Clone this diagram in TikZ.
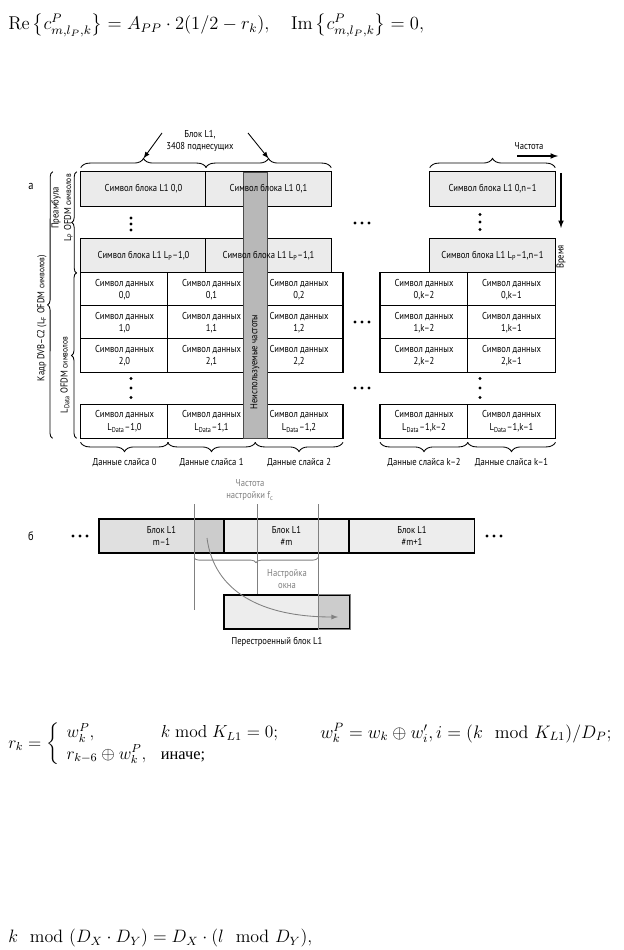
\documentclass[tikz,border=0pt]{standalone}
\usepackage{amsmath}
\usepackage{fontspec}
\newfontfamily\diagfont[FakeStretch=0.86]{PT Sans}
\newfontfamily\cyrserif{Liberation Serif}
\usetikzlibrary{backgrounds,decorations.pathreplacing}

\definecolor{l1fill}{gray}{0.92}
\definecolor{l1light}{gray}{0.93}
\definecolor{l1mid}{gray}{0.88}
\definecolor{l1dark}{gray}{0.80}
\definecolor{barfill}{gray}{0.72}
\definecolor{tunegray}{gray}{0.5}

\newcommand{\cellfont}{\diagfont\fontsize{7}{8.8}\selectfont}
\newcommand{\tinyfont}{\diagfont\fontsize{6.1}{7.5}\selectfont}
\newcommand{\partfont}{\diagfont\fontsize{8.5}{10}\selectfont}

\tikzstyle{l1cell} = [minimum width=87.5pt,minimum height=23.8pt,inner sep=0pt,font=\cellfont]
\tikzstyle{datacell} = [minimum width=61.2pt,minimum height=23.1pt,inner sep=0pt,align=center,font=\cellfont]
\tikzstyle{cellframe} = [draw=black,line width=0.9pt]
\tikzstyle{stripcell} = [draw=black,line width=0.9pt,minimum width=87.5pt,minimum height=23.8pt,inner sep=0pt,align=center,font=\cellfont]
\tikzstyle{lbl} = [inner sep=1pt,align=center,font=\cellfont]
\tikzstyle{tunelbl} = [lbl,text=tunegray]
\tikzstyle{brc} = [decorate,decoration={brace,amplitude=3.5pt,raise=2.8pt},semithick]
\tikzstyle{widebrc} = [brc,decoration={amplitude=6.5pt}]
\tikzstyle{tuneline} = [draw=tunegray,semithick]
\tikzstyle{formula} = [anchor=west,inner sep=0pt,font=\fontsize{12}{15}\selectfont]

\begin{document}
\begin{tikzpicture}[x=0.7pt,y=-0.7pt,>=latex]

	\useasboundingbox (0,0) rectangle (623,950);

	% formulas
	\node (eqre) [formula] at (8,25) {\scalebox{1.082}{$\mathrm{Re}\left\{c^P_{m,l_P,k}\right\} = A_{PP}\cdot 2(1/2 - r_k), \quad \mathrm{Im}\left\{c^P_{m,l_P,k}\right\} = 0,$}};
	\node (eqrk) [formula] at (8,744) {\scalebox{1.015}{$r_k = \left\{ \begin{array}{ll} w^P_k, & k \bmod K_{L1} = 0;\\ r_{k-6}\oplus w^P_k, & \mbox{\cyrserif\fontsize{11.3}{13}\selectfont иначе;} \end{array}\right.$}};
	\node (eqwk) [formula] at (320,733) {\scalebox{1.056}{$w^P_k = w_k \oplus w'_i, i = (k \mod K_{L1})/D_P;$}};
	\node (eqmod) [formula] at (8,938) {\scalebox{1.047}{$k \mod (D_X\cdot D_Y) = D_X\cdot(l \mod D_Y),$}};

	% part a: L1 preamble
	\node (parta) [font=\partfont] at (31,186) {а};
	\node (p00) [l1cell] at (143.5,189) {Символ блока L1 0,0};
	\node (p01) [l1cell] at (268.5,189) {Символ блока L1 0,1};
	\node (pL0) [l1cell] at (143.5,256) {Символ блока L1 L\textsubscript{P}–1,0};
	\node (pL1) [l1cell] at (268.5,256) {Символ блока L1 L\textsubscript{P}–1,1};
	\node (pn0) [l1cell] at (492.5,189) {Символ блока L1 0,n–1};
	\node (pnL) [l1cell] at (492.5,256) {Символ блока L1 L\textsubscript{P}–1,n–1};

	% data symbols
	\node (d00) [datacell] at (124.5,289.5) {Символ данных\\0,0};
	\node (d01) [datacell] at (211.5,289.5) {Символ данных\\0,1};
	\node (d02) [datacell] at (299,289.5) {Символ данных\\0,2};
	\node (d10) [datacell] at (124.5,322.5) {Символ данных\\1,0};
	\node (d11) [datacell] at (211.5,322.5) {Символ данных\\1,1};
	\node (d12) [datacell] at (299,322.5) {Символ данных\\1,2};
	\node (d20) [datacell] at (124.5,355.5) {Символ данных\\2,0};
	\node (d21) [datacell] at (211.5,355.5) {Символ данных\\2,1};
	\node (d22) [datacell] at (299,355.5) {Символ данных\\2,2};
	\node (dL0) [datacell] at (124.5,421.5) {Символ данных\\L\textsubscript{Data}–1,0};
	\node (dL1) [datacell] at (211.5,421.5) {Символ данных\\L\textsubscript{Data}–1,1};
	\node (dL2) [datacell] at (299,421.5) {Символ данных\\L\textsubscript{Data}–1,2};

	\node (dk00) [datacell] at (424,289.5) {Символ данных\\0,k–2};
	\node (dk01) [datacell] at (511.5,289.5) {Символ данных\\0,k–1};
	\node (dk10) [datacell] at (424,322.5) {Символ данных\\1,k–2};
	\node (dk11) [datacell] at (511.5,322.5) {Символ данных\\1,k–1};
	\node (dk20) [datacell] at (424,355.5) {Символ данных\\2,k–2};
	\node (dk21) [datacell] at (511.5,355.5) {Символ данных\\2,k–1};
	\node (dkL0) [datacell] at (424,421.5) {Символ данных\\L\textsubscript{Data}–1,k–2};
	\node (dkL1) [datacell] at (511.5,421.5) {Символ данных\\L\textsubscript{Data}–1,k–1};

	% frames under the texts, then the unused band over them
	\begin{scope}[on background layer]
		\foreach \c in {p00,p01,pL0,pL1,pn0,pnL}
			\draw[cellframe,fill=l1fill] (\c.south west) rectangle (\c.north east);
		\foreach \c in {d00,d01,d02,d10,d11,d12,d20,d21,d22,dL0,dL1,dL2,dk00,dk01,dk10,dk11,dk20,dk21,dkL0,dkL1}
			\draw[cellframe,fill=white] (\c.south west) rectangle (\c.north east);
		\node (unused) [draw=black!70,fill=barfill,line width=0.6pt,minimum width=16.8pt,minimum height=186.2pt,inner sep=0pt] at (255,305) {};
	\end{scope}
	\node (unusedlbl) [lbl,rotate=90] at (255,362) {Неиспользуемые частоты};

	% dots
	\foreach \x/\y/\s in {131/224/6, 480/222/7.5, 131/388/9.5, 480/388/9.5}
		\foreach \d in {-1,0,1}
			\fill (\x,\y+\d*\s) circle[radius=1.15pt];
	\foreach \x/\y in {362/223, 362/322, 362/388, 80/536, 494/536}
		\foreach \d in {-1,0,1}
			\fill (\x+\d*7,\y) circle[radius=1.15pt];

	% braces of part a
	\draw[widebrc] (p00.north west) -- (p00.north east);
	\draw[widebrc] (p01.north west) -- (p01.north east);
	\draw[widebrc] (pn0.north west) -- (pn0.north east);
	\draw[brc] (pL0.south west) -- (p00.north west);
	\draw[brc] (dL0.south west) -- (d00.north west);
	\draw[brc,decoration={raise=19.6pt}] (dL0.south west) -- (p00.north west);
	\draw[widebrc] (dL0.south east) -- (dL0.south west);
	\draw[widebrc] (dL1.south east) -- (dL1.south west);
	\draw[widebrc] (dL2.south east) -- (dL2.south west);
	\draw[widebrc] (dkL0.south east) -- (dkL0.south west);
	\draw[widebrc] (dkL1.south east) -- (dkL1.south west);

	\node (blk) [lbl] at (200,141) {Блок L1,\\3408 поднесущих};
	\coordinate (blkL) at (162,133);
	\coordinate (blkR) at (248,133);
	\coordinate (tip0) at ([yshift=9.3pt]p00.north);
	\coordinate (tip1) at ([yshift=9.3pt]p01.north);
	\draw[->,semithick] (blkL) -- (tip0);
	\draw[->,semithick] (blkR) -- (tip1);

	\node (prelbl) [lbl,rotate=90] at (62,208) {Преамбула\\L\textsubscript{P} OFDM {\tinyfont символов}};
	\node (datalbl) [lbl,rotate=90] at (65,375) {L\textsubscript{Data} OFDM {\tinyfont символов}};
	\node (framelbl) [lbl,rotate=90] at (42,318) {Кадр DVB–C2 (L\textsubscript{F} OFDM {\tinyfont символов})};

	\node (sl0) [lbl] at (124.5,463) {Данные слайса 0};
	\node (sl1) [lbl] at (211.5,463) {Данные слайса 1};
	\node (sl2) [lbl] at (299,463) {Данные слайса 2};
	\node (slk2) [lbl] at (424,463) {Данные слайса k–2};
	\node (slk1) [lbl] at (511.5,463) {Данные слайса k–1};

	% frequency and time axes
	\node (fqlbl) [lbl] at (529,146) {Частота};
	\coordinate (fq0) at (517,156);
	\coordinate (fq1) at (558,156);
	\draw[->,thick] (fq0) -- (fq1);
	\coordinate (tm0) at (561,173);
	\coordinate (tm1) at (561,228);
	\draw[->,thick] (tm0) -- (tm1);
	\node (tmlbl) [lbl,rotate=90] at (561,257) {Время};

	% part b: tuning window
	\node (partb) [font=\partfont] at (31,536) {б};
	\node (bm1) [stripcell] at (161.5,536) {Блок L1\\m–1};
	\node (bm) [stripcell,fill=l1light] at (286.5,536) {Блок L1\\\#m};
	\node (bm2) [stripcell,fill=l1light] at (412,536) {Блок L1\\\#m+1};
	\node (rb) [stripcell,minimum width=88.2pt] at (287,612) {};

	\coordinate (tw0) at (194,504);
	\coordinate (tc) at (257,504);
	\coordinate (tw1) at (318,504);
	\coordinate (tw0b) at (194,610);

	\begin{scope}[on background layer]
		\fill[l1mid] (bm1.north west) rectangle (bm1.south east);
		\fill[l1dark] (tw0 |- bm1.north) rectangle (bm1.south east);
		\fill[l1light] (rb.north west) rectangle (rb.south east);
		\fill[l1dark] (tw1 |- rb.north) rectangle (rb.south east);
	\end{scope}
	\draw[tunegray,line width=0.9pt] (tw1 |- rb.north) -- (rb.north east) -- (rb.south east) -- (tw1 |- rb.south);

	\draw[tuneline] (tw0) -- (tw0b);
	\draw[tuneline] (tc) -- (tc |- rb.north);
	\draw[tuneline] (tw1) -- (tw1 |- rb.south);
	\draw[brc,tunegray] (tw1 |- bm.south) -- (tw0 |- bm.south);

	\node (tunefq) [tunelbl] at (250,490) {Частота\\настройки f\textsubscript{c}};
	\node (tunewin) [tunelbl] at (287,579) {Настройка\\окна};
	\node (rblbl) [lbl] at (277,642) {Перестроенный блок L1};

	\coordinate (mvsrc) at (207,538);
	\coordinate (mvdst) at (338,617);
	\draw[->,tunegray,semithick] (mvsrc) .. controls (214,592) and (262,617) .. (mvdst);

\end{tikzpicture}
\end{document}
